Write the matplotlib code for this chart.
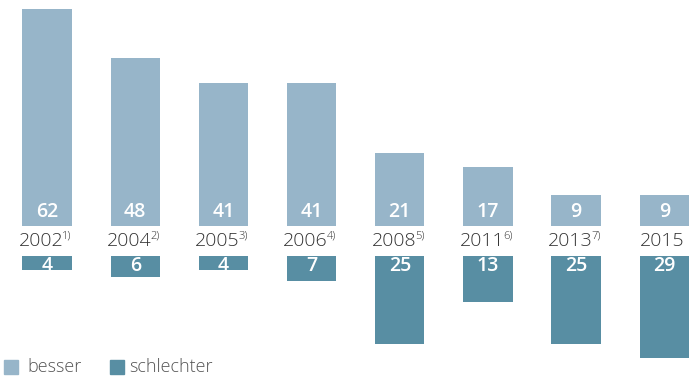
import numpy as np
import matplotlib
matplotlib.use("Agg")
import matplotlib.pyplot as plt
from matplotlib.patches import Rectangle

years = ["2002", "2004", "2005", "2006", "2008", "2011", "2013", "2015"]
notes = ["1)", "2)", "3)", "4)", "5)", "6)", "7)", ""]
besser = [62, 48, 41, 41, 21, 17, 9, 9]
schlechter = [4, 6, 4, 7, 25, 13, 25, 29]

c_light = "#97b5c9"
c_dark = "#588ea3"

plt.rcParams['font.family'] = ['Open Sans', 'DejaVu Sans']

fig = plt.figure(figsize=(7, 3.91), dpi=100)
ax = fig.add_axes([0, 0, 1, 1])

x = np.arange(len(years))
gap = 8.6  # space between the upper baseline and the lower bars

ax.bar(x, besser, width=0.56, color=c_light)
ax.bar(x, [-v for v in schlechter], bottom=-gap, width=0.56, color=c_dark)

for i in range(len(years)):
    ax.text(x[i], 4, str(besser[i]), ha="center", va="center",
            color="white", fontsize=14, fontweight="semibold")
    ax.text(x[i], -gap - 2.9, str(schlechter[i]), ha="center", va="center",
            color="white", fontsize=14, fontweight="semibold")
    if notes[i]:
        ax.text(x[i] + 0.185, -4.3, years[i], ha="right", va="center",
                color="#333333", fontsize=14, fontweight="light")
        ax.text(x[i] + 0.175, -2.9, notes[i], ha="left", va="center",
                color="#333333", fontsize=8, fontweight="light")
    else:
        ax.text(x[i] - 0.03, -4.3, years[i], ha="center", va="center",
                color="#333333", fontsize=14, fontweight="light")

ax.set_xlim(-0.533, 7.404)
ax.set_ylim(-47.1, 64.6)
ax.axis("off")

# legend
fig.patches.append(Rectangle((4 / 700, 1 - 374 / 391), 14 / 700, 14 / 391,
                             transform=fig.transFigure, color=c_light))
fig.text(27 / 700, 1 - 367 / 391, "besser", ha="left", va="center",
         color="#555555", fontsize=13, fontweight="light")
fig.patches.append(Rectangle((110 / 700, 1 - 374 / 391), 14 / 700, 14 / 391,
                             transform=fig.transFigure, color=c_dark))
fig.text(129 / 700, 1 - 367 / 391, "schlechter", ha="left", va="center",
         color="#555555", fontsize=13, fontweight="light")

plt.savefig("out.png", dpi=100)
